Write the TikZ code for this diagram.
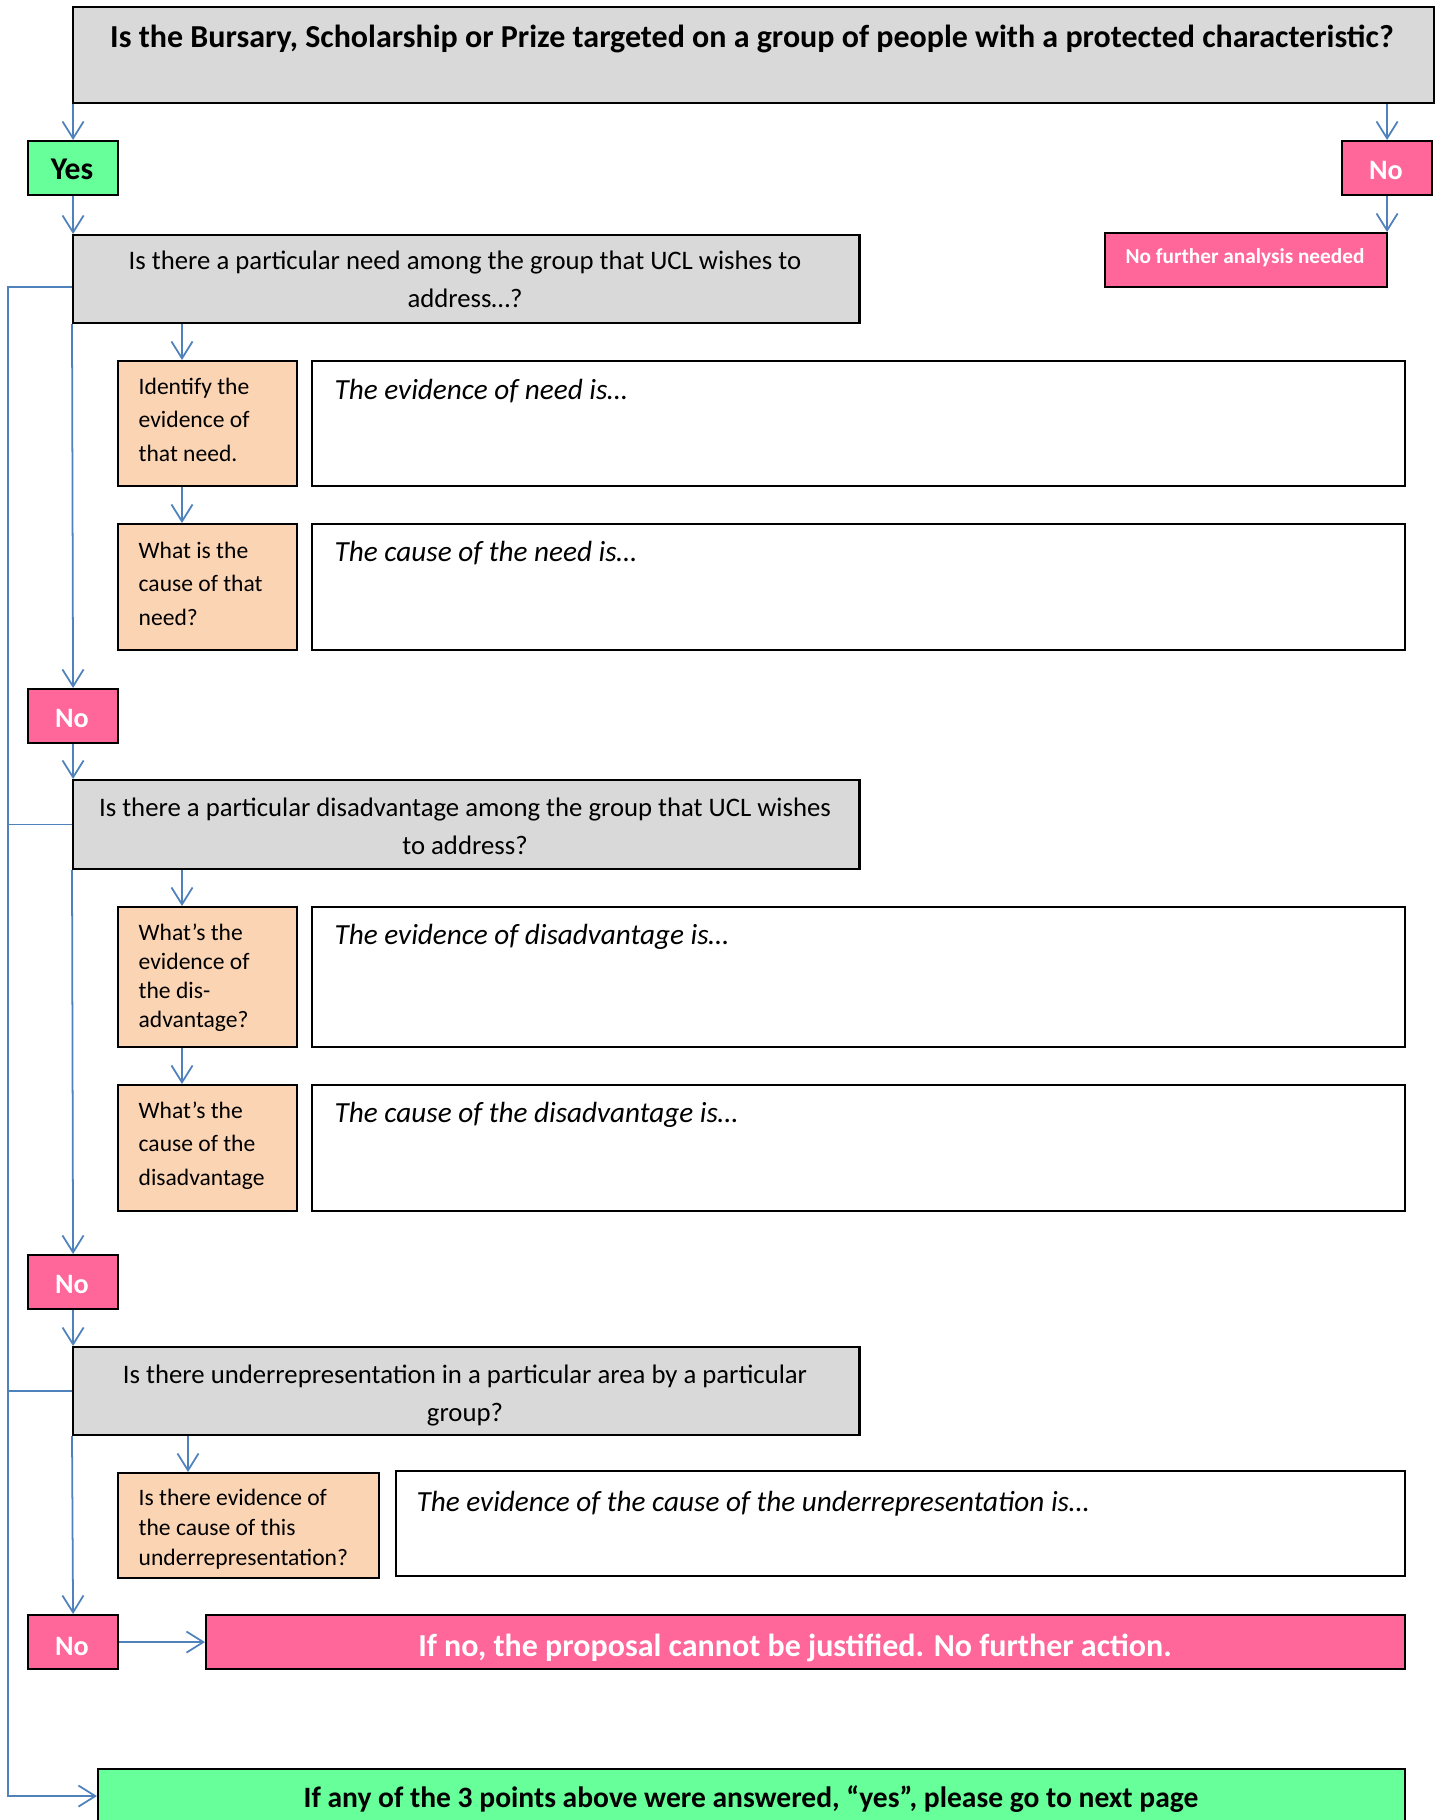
\documentclass[tikz,border=0pt]{standalone}
\usepackage{fontspec}
\setmainfont{Carlito}
\usetikzlibrary{arrows.meta,calc,positioning}

\definecolor{boxgrey}{HTML}{D9D9D9}
\definecolor{boxpeach}{HTML}{FBD4B4}
\definecolor{boxpink}{HTML}{FF6699}
\definecolor{boxgreen}{HTML}{66FF99}
\definecolor{linkblue}{HTML}{4F81BD}

\tikzset{
  box/.style={draw=black, line width=0.6pt, inner sep=0pt, anchor=north west},
  greybox/.style={box, fill=boxgrey},
  peachbox/.style={box, fill=boxpeach},
  answerbox/.style={box, fill=white},
  tag/.style={box, minimum width=0.90cm, minimum height=0.54cm},
  toptext/.style={anchor=base, inner sep=0pt, font=\bfseries\fontsize{9.1}{10}\selectfont},
  qtext/.style={anchor=base, inner sep=0pt, align=center, font=\fontsize{7.6}{10.8}\selectfont},
  peachtext/.style={anchor=base west, inner sep=0pt, align=left, font=\fontsize{6.7}{9.5}\selectfont},
  answertext/.style={anchor=base west, inner sep=0pt, font=\itshape\fontsize{8.3}{10}\selectfont},
  tagtext/.style={anchor=base, inner sep=0pt, font=\bfseries\fontsize{8}{10}\selectfont},
  link/.style={draw=linkblue, line width=0.5pt},
  arr/.style={link, -{Straight Barb[length=4.8pt,width=6pt]}},
}

\begin{document}
\begin{tikzpicture}[x=0.01cm, y=-0.01cm]
  \useasboundingbox (0,0) rectangle (1441,1820);

  % question boxes
  \node[greybox, minimum width=13.60cm, minimum height=0.96cm] (top) at (72,6) {};
  \node[greybox, minimum width=7.86cm, minimum height=0.88cm] (q1) at (72,234) {};
  \node[greybox, minimum width=7.86cm, minimum height=0.89cm] (q2) at (72,779) {};
  \node[greybox, minimum width=7.86cm, minimum height=0.88cm] (q3) at (72,1346) {};
  \node[toptext] (toptxt) at (752,47) {Is the Bursary, Scholarship or Prize targeted on a group of people with a protected characteristic?};
  \node[qtext] (q1txt) at (465,307) {Is there a particular need among the group that UCL wishes to\\address…?};
  \node[qtext] (q2txt) at (465,854) {Is there a particular disadvantage among the group that UCL wishes\\to address?};
  \node[qtext] (q3txt) at (465,1421) {Is there underrepresentation in a particular area by a particular\\group?};

  % yes / no tags
  \node[tag, fill=boxgreen] (yes) at (27,140) {};
  \node[tag, fill=boxpink] (no1) at (1341,140) {};
  \node[tag, fill=boxpink] (no2) at (27,688) {};
  \node[tag, fill=boxpink] (no3) at (27,1254) {};
  \node[tag, fill=boxpink] (no4) at (27,1614) {};
  \node[tagtext, font=\bfseries\fontsize{9}{10}\selectfont] (yestxt) at (72,179) {Yes};
  \node[tagtext, text=white] (no1txt) at (1386,179) {No};
  \node[tagtext, text=white] (no2txt) at (72,727) {No};
  \node[tagtext, text=white] (no3txt) at (72,1293) {No};
  \node[tagtext, text=white] (no4txt) at (72,1655) {No};

  \node[box, fill=boxpink, minimum width=2.82cm, minimum height=0.54cm] (nfa) at (1104,232) {};
  \node[tagtext, text=white, font=\bfseries\fontsize{6.05}{8}\selectfont] (nfatxt) at (1245,263) {No further analysis needed};

  % evidence and cause boxes
  \node[peachbox, minimum width=1.79cm, minimum height=1.25cm] (ev1) at (117,360) {};
  \node[peachbox, minimum width=1.79cm, minimum height=1.26cm] (ca1) at (117,523) {};
  \node[peachbox, minimum width=1.79cm, minimum height=1.40cm] (ev2) at (117,906) {};
  \node[peachbox, minimum width=1.79cm, minimum height=1.26cm] (ca2) at (117,1084) {};
  \node[peachbox, minimum width=2.61cm, minimum height=1.05cm] (ev3) at (117,1472) {};
  \node[peachtext] (ev1txt) at (138,461) {Identify the\\evidence of\\that need.};
  \node[peachtext] (ca1txt) at (138,625) {What is the\\cause of that\\need?};
  \node[peachtext, font=\fontsize{6.7}{8.2}\selectfont] (ev2txt) at (138,1027) {What’s the\\evidence of\\the dis-\\advantage?};
  \node[peachtext] (ca2txt) at (138,1185) {What’s the\\cause of the\\disadvantage};
  \node[peachtext, font=\fontsize{6.7}{8.4}\selectfont] (ev3txt) at (138,1565) {Is there evidence of\\the cause of this\\underrepresentation?};

  % answer boxes
  \node[answerbox, minimum width=10.92cm, minimum height=1.25cm] (ans1) at (311,360) {};
  \node[answerbox, minimum width=10.92cm, minimum height=1.26cm] (ans2) at (311,523) {};
  \node[answerbox, minimum width=10.92cm, minimum height=1.40cm] (ans3) at (311,906) {};
  \node[answerbox, minimum width=10.92cm, minimum height=1.26cm] (ans4) at (311,1084) {};
  \node[answerbox, minimum width=10.08cm, minimum height=1.05cm] (ans5) at (395,1470) {};
  \node[answertext] (ans1txt) at (334,399) {The evidence of need is…};
  \node[answertext] (ans2txt) at (334,561) {The cause of the need is…};
  \node[answertext] (ans3txt) at (334,944) {The evidence of disadvantage is…};
  \node[answertext] (ans4txt) at (334,1122) {The cause of the disadvantage is…};
  \node[answertext] (ans5txt) at (416,1511) {The evidence of the cause of the underrepresentation is…};

  % outcomes
  \node[box, fill=boxpink, minimum width=11.98cm, minimum height=0.54cm] (stop) at (205,1614) {};
  \node[box, fill=boxgreen, minimum width=13.06cm, minimum height=0.54cm] (next) at (97,1768) {};
  \node[tagtext, text=white, font=\bfseries\fontsize{9.1}{10}\selectfont] (stoptxt) at (795,1656) {If no, the proposal cannot be justified. No further action.};
  \node[tagtext, font=\bfseries\fontsize{8.4}{10}\selectfont] (nexttxt) at (751,1807) {If any of the 3 points above were answered, “yes”, please go to next page};

  % connectors
  \coordinate (d1) at (182,0);
  \coordinate (d3) at (188,0);
  \coordinate (trunk) at (8,0);
  \draw[arr] (yes.north |- top.south) -- (yes.north);
  \draw[arr] (no1.north |- top.south) -- (no1.north);
  \draw[arr] (yes.south) -- (yes.south |- q1.north);
  \draw[arr] (no1.south) -- (no1.south |- nfa.north);
  \draw[arr] (d1 |- q1.south) -- (d1 |- ev1.north);
  \draw[arr] (d1 |- ev1.south) -- (d1 |- ca1.north);
  \draw[arr] (q1.south west) -- (no2.north);
  \draw[arr] (no2.south) -- (no2.south |- q2.north);
  \draw[arr] (d1 |- q2.south) -- (d1 |- ev2.north);
  \draw[arr] (d1 |- ev2.south) -- (d1 |- ca2.north);
  \draw[arr] (q2.south west) -- (no3.north);
  \draw[arr] (no3.south) -- (no3.south |- q3.north);
  \draw[arr] (d3 |- q3.south) -- (d3 |- ev3.north);
  \draw[arr] (q3.south west) -- (no4.north);
  \draw[arr] (no4.east) -- (stop.west);
  \draw[arr] ($(q1.west)+(0,8)$) -| (trunk |- next.west) -- (next.west);
  \draw[link] (q2.west) -- (q2.west -| trunk);
  \draw[link] (q3.west) -- (q3.west -| trunk);
\end{tikzpicture}
\end{document}
